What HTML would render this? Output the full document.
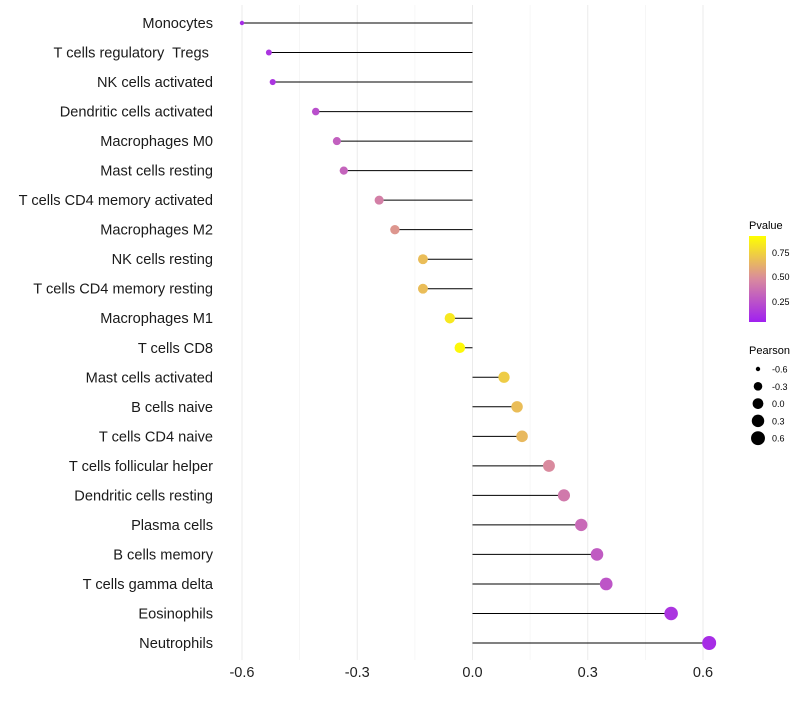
<!DOCTYPE html>
<html><head><meta charset="utf-8"><style>
body{margin:0;background:#fff;}
svg{font-family:"Liberation Sans",sans-serif;}
text{white-space:pre;}
</style></head><body>
<svg id="chart" width="800" height="700">
<defs><linearGradient id="pg" x1="0" y1="1" x2="0" y2="0">
<stop offset="0" stop-color="#a020f0"/><stop offset="0.5" stop-color="#d98a9e"/><stop offset="1" stop-color="#ffff00"/>
</linearGradient></defs>
<g id="grid"></g><g id="marks"></g><g id="labels"></g><g id="xticks"></g>
<g id="legend">
<text x="749" y="229" font-size="11">Pvalue</text>
<rect x="749" y="236" width="17" height="86" fill="url(#pg)"/>
<text x="772" y="256" font-size="9">0.75</text>
<text x="772" y="280" font-size="9">0.50</text>
<text x="772" y="305" font-size="9">0.25</text>
<text x="749" y="354" font-size="11">Pearson</text>
<g id="sizeleg"></g>
</g>
</svg>
<script>
const categories=["Monocytes","T cells regulatory  Tregs ","NK cells activated","Dendritic cells activated","Macrophages M0","Mast cells resting","T cells CD4 memory activated","Macrophages M2","NK cells resting","T cells CD4 memory resting","Macrophages M1","T cells CD8","Mast cells activated","B cells naive","T cells CD4 naive","T cells follicular helper","Dendritic cells resting","Plasma cells","B cells memory","T cells gamma delta","Eosinophils","Neutrophils"];
const pearson=[-0.60,-0.53,-0.52,-0.408,-0.353,-0.335,-0.243,-0.202,-0.129,-0.129,-0.059,-0.033,0.082,0.116,0.129,0.199,0.238,0.283,0.324,0.348,0.517,0.616];
const pvalue=[0.06,0.1,0.1,0.22,0.3,0.32,0.45,0.55,0.72,0.72,0.9,0.97,0.78,0.72,0.7,0.5,0.42,0.35,0.28,0.25,0.1,0.06];
const xTicks=[-0.6,-0.3,0.0,0.3,0.6];
const xTickLabels=["-0.6","-0.3","0.0","0.3","0.6"];
const sizeLegend=[-0.6,-0.3,0.0,0.3,0.6];
const NS="http://www.w3.org/2000/svg";
const x=v=>472.5+v*384.2;
const y=i=>23+i*(620/21);
const r=v=>1.5+5.5*Math.sqrt(Math.max(0,(v+0.62)/1.24));
function lerp(a,b,t){return a.map((c,i)=>Math.round(c+(b[i]-c)*t));}
function col(p){const s=[[160,32,240],[217,138,158],[255,255,0]];const t=Math.min(1,Math.max(0,p));const c=t<0.5?lerp(s[0],s[1],t/0.5):lerp(s[1],s[2],(t-0.5)/0.5);return`rgb(${c.join(',')})`;}
function mk(tag,attrs,parent){const e=document.createElementNS(NS,tag);for(const k in attrs)e.setAttribute(k,attrs[k]);parent.appendChild(e);return e;}
const grid=document.getElementById('grid'),marks=document.getElementById('marks'),labels=document.getElementById('labels'),xt=document.getElementById('xticks');
[-0.45,-0.15,0.15,0.45].forEach(v=>mk('line',{x1:x(v),x2:x(v),y1:5,y2:660,stroke:'#f4f4f4','stroke-width':0.8},grid));
xTicks.forEach((v,i)=>{mk('line',{x1:x(v),x2:x(v),y1:5,y2:660,stroke:'#ebebeb','stroke-width':1},grid);
const t=mk('text',{x:x(v),y:677,'font-size':14.5,'text-anchor':'middle',fill:'#222'},xt);t.textContent=xTickLabels[i];

});
categories.forEach((c,i)=>{
const t=mk('text',{x:213,y:y(i)+5,'font-size':14.6,'text-anchor':'end',fill:'#1a1a1a'},labels);t.textContent=c;


const l=mk('line',{x1:x(0),x2:x(pearson[i]),y1:y(i),y2:y(i),stroke:'#000','stroke-width':1},marks);


const p=mk('circle',{cx:x(pearson[i]),cy:y(i),r:r(pearson[i]),fill:col(pvalue[i])},marks);


});
const sl=document.getElementById('sizeleg');
sizeLegend.forEach((v,i)=>{const cy=369+i*17.3;
const c=mk('circle',{cx:758,cy:cy,r:r(v),fill:'#000'},sl);


const t=mk('text',{x:772,y:cy+3.5,'font-size':9},sl);t.textContent=v.toFixed(1);

});
</script>
</body></html>
